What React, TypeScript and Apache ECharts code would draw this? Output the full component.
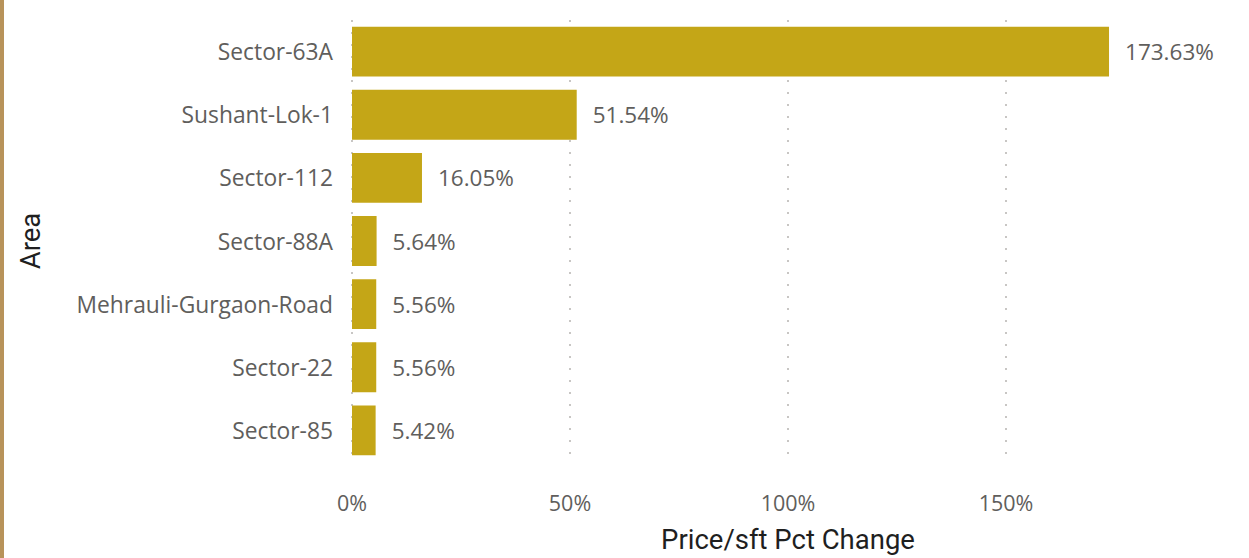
import React, { useEffect, useRef } from "react";
import * as echarts from "echarts";

const categories = [
  "Sector-63A",
  "Sushant-Lok-1",
  "Sector-112",
  "Sector-88A",
  "Mehrauli-Gurgaon-Road",
  "Sector-22",
  "Sector-85",
];
const values = [173.63, 51.54, 16.05, 5.64, 5.56, 5.56, 5.42];
const xTicks = [0, 50, 100, 150];
const xTitle = "Price/sft Pct Change";
const yTitle = "Area";

const FONT = "'Segoe UI', 'Open Sans', 'Noto Sans', sans-serif";
const TITLE_FONT = "Roboto, 'DejaVu Sans', sans-serif";

export default function App() {
  const ref = useRef<HTMLDivElement>(null);
  useEffect(() => {
    document.body.style.margin = "0";
    const chart = echarts.init(ref.current!, undefined, { renderer: "svg" });
    chart.setOption({
      animation: false,
      backgroundColor: "#ffffff",
      graphic: [
        {
          type: "rect",
          left: 0,
          top: 0,
          shape: { width: 4, height: 558 },
          style: { fill: "#B8935A" },
        },
      ],
      grid: { left: 352, right: 25, top: 20, height: 445, containLabel: false },
      xAxis: {
        type: "value",
        min: 0,
        max: 200,
        interval: 50,
        name: xTitle,
        nameLocation: "middle",
        nameGap: 63,
        nameTextStyle: { fontFamily: TITLE_FONT, fontSize: 27.5, fontWeight: "normal", color: "#1f1f1f" },
        axisLine: { show: false },
        axisTick: { show: false },
        axisLabel: {
          fontFamily: FONT,
          fontSize: 21.5,
          color: "#605E5C",
          margin: 29,
          showMaxLabel: false,
          formatter: (v: number) => (xTicks.includes(v) ? v + "%" : ""),
        },
        splitLine: {
          show: true,
          showMaxLine: false,
          lineStyle: { type: [2, 10], color: "#C8C6C4", width: 2 },
        },
      },
      yAxis: {
        type: "category",
        inverse: true,
        data: categories,
        name: yTitle,
        nameLocation: "middle",
        nameGap: 308,
        nameRotate: 90,
        nameTextStyle: { fontFamily: TITLE_FONT, fontSize: 27.5, fontWeight: "normal", color: "#1f1f1f" },
        axisLine: { show: false },
        axisTick: { show: false },
        axisLabel: { fontFamily: FONT, fontSize: 22.8, color: "#605E5C", margin: 19 },
      },
      series: [
        {
          type: "bar",
          data: values,
          barCategoryGap: "21%",
          itemStyle: { color: "#C4A617" },
          label: {
            show: true,
            position: "right",
            distance: 16,
            fontFamily: FONT,
            fontSize: 22.5,
            color: "#605E5C",
            formatter: (p: any) => p.value.toFixed(2) + "%",
          },
        },
      ],
    });
    return () => chart.dispose();
  }, []);
  return <div ref={ref} style={{ width: 1249, height: 558 }} />;
}
